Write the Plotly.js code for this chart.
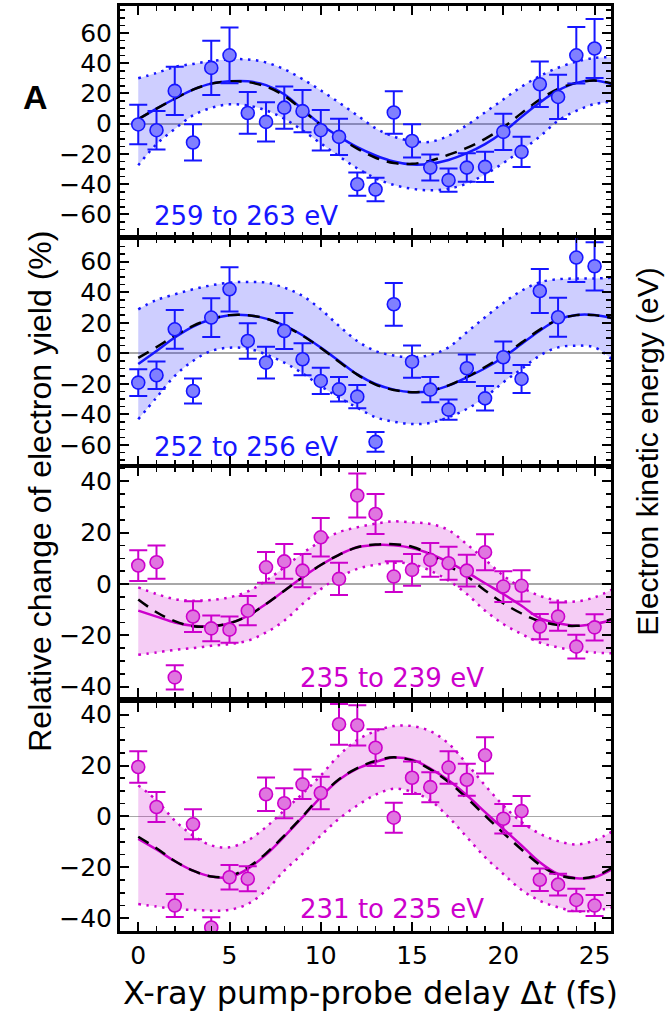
<!DOCTYPE html>
<html><head><meta charset="utf-8">
<script src="https://cdn.plot.ly/plotly-3.0.1.min.js"></script>
<style>html,body{margin:0;padding:0;background:#fff;overflow:hidden}#chart{width:669px;height:1015px}</style>
</head><body><div id="chart"></div>
<script>
// ---- data ----
const delays = [0,1,2,3,4,5,6,7,8,9,10,11,12,13,14,15,16,17,18,19,20,21,22,23,24,25];
const fitDelays = [0,1,2,3,4,5,6,7,8,9,10,11,12,13,14,15,16,17,18,19,20,21,22,23,24,25,26];
const panelLabels = ['259 to 263 eV','252 to 256 eV','235 to 239 eV','231 to 235 eV'];

// panel 1: 259 to 263 eV
const y1 = [-0.5,-4.3,21.7,-12.4,36.9,45.2,7.1,1.2,10.6,8.3,-4.3,-8.7,-40,-43.5,7.4,-11.4,-29,-37.3,-29,-28.5,-5.4,-18.6,26.1,17.7,45.2,49.7];
const e1 = [13,12.7,16,12,18,18.4,13.8,12.9,14,14,13.4,12,7.7,7.7,14,11,8.6,7.7,9.4,10,12,10,15,14.6,18.7,19.5];
const fit1 = [3,10,16.5,22.5,26.5,28,28,25.5,19.5,9.5,-0.5,-8.5,-15.5,-21,-25,-27,-26.5,-24,-19.5,-13.5,-5.5,4.5,14,22,27,28.5,26];
const alt1 = [3,10,16.5,22.5,26.5,28,27.5,24.5,18.5,9,-1,-9,-16.5,-22.5,-26,-26.5,-24.5,-20.5,-16,-10,-2.5,7,16,23,27,28.5,26.5];
const up1 = [30,33.5,37.5,39.5,41.5,42.5,42.5,40.5,36,29.5,22,14,5.5,-3,-8.5,-11.5,-12,-8,-1,7.5,16,24.5,31.5,37,41,43.5,44];
const lo1 = [-27.5,-13.5,-3.5,5.5,10.5,12.8,12,8.8,3.3,-4.4,-13,-21.5,-29.5,-36,-40.5,-43,-44,-43,-39.5,-33.5,-26,-17.5,-8.5,2,8.5,13,14.5];

// panel 2: 252 to 256 eV
const y2 = [-19.2,-14.4,15.7,-24.7,23.4,41.9,8.1,-6.1,14.6,-3.9,-18.1,-23.6,-28.4,-58,32.1,-5.5,-23.8,-36.9,-9.8,-29.5,-2.6,-16.8,40.8,23.6,62.7,57];
const e2 = [8.7,9,12.7,8.2,12.7,14.5,11.6,10.4,11.8,10.5,8.6,8,7.6,6.5,14,10.6,8.2,6.7,9,8,10.3,9.2,14.4,12.8,16,15.8];
const fit2 = [-7,1.5,10.3,17.5,22.3,24.9,24.9,22.7,18.3,11.8,3.7,-5,-13.8,-20.1,-23.8,-25.5,-24.7,-21.2,-15.7,-9.8,-2.6,6.1,14.8,22,25.1,25.1,22.9];
const alt2 = [-3,4,11.5,18,22.5,25,25,22.7,18,11.5,3.5,-5.5,-14,-20.5,-24,-25.5,-24.5,-21,-15.5,-9,-1.5,7,15.5,22,25,25,23];
const up2 = [28.8,34.9,38.6,41.9,44.5,46.3,46.7,46.3,43,37.6,28.8,17.9,8.1,1.5,-1.5,-2.6,-1.1,3.9,13.8,23.6,33,41,46.5,48.5,49,49,49.5];
const lo2 = [-43.2,-29,-14.8,-5,1.5,3.7,3.1,-0.7,-6.1,-13.1,-21.4,-29,-35.6,-41.9,-44.8,-46.3,-45.6,-41.9,-36.5,-28.8,-19,-10.3,-1.5,3.9,5,3.9,-4.5];

// panel 3: 235 to 239 eV
const y3 = [7.2,8.5,-36.4,-12.7,-17.3,-17.8,-10.4,6.5,8.8,5.2,18.2,2,34.5,27.3,2.9,5.5,9.4,8.1,5.2,12.4,-1,-0.7,-16.6,-12.7,-24.4,-16.9];
const e3 = [6,6.5,4.7,6,5,5.1,5.7,6,6.8,6.5,7.5,6.3,8.6,7.8,6,6.2,6.6,6.4,6.2,7,6,6.1,4.9,5.5,4.6,5.1];
const fit3 = [-10.4,-12.7,-15,-16.3,-16.4,-15.3,-12.4,-7.8,-2.6,2.6,7.4,11.4,14.3,15.2,15.1,14,11.7,8.5,4.6,0.3,-3.9,-8.5,-13.3,-15.3,-16.3,-15.6,-14];
const alt3 = [-6,-11,-14.5,-16.5,-16.5,-15.3,-12.4,-7.8,-2.6,2.6,7.4,11.4,14.3,15.4,15.5,14.5,11.5,7,3,-2.5,-7.5,-11.5,-14.5,-16,-16.3,-15.5,-13.5];
const up3 = [-1.3,-3.9,-5.9,-6.5,-6.2,-5.2,-2.9,1.3,6.5,12,16.6,20.2,22.1,23.5,24.4,24,23.4,21,15.5,9.5,3.3,-1.3,-4.6,-6.5,-6.8,-5.2,-2];
const lo3 = [-27.6,-26.7,-25.7,-25,-24.1,-23.4,-22.1,-18.9,-14.3,-7.8,-2,2.6,5.9,7.5,8.3,7.8,5.2,1.3,-3.9,-10.4,-15.6,-19.5,-22.8,-24.7,-26,-26.7,-27];

// panel 4: 231 to 235 eV
const y4 = [19.4,3.7,-35,-3.1,-43.6,-23.9,-24.5,8.7,5.2,12.6,9.2,36.2,35.8,27,-0.5,15.2,11.5,19.2,14.4,24,-0.9,2.1,-24.9,-26.8,-32.8,-35];
const e4 = [6.2,5.9,4.5,5.9,4,4.8,4.9,6.6,5.9,5.8,6.4,8,7.9,7.2,5.9,6.4,5.9,6.4,6.3,7.1,5.8,5.9,4.4,4.3,4.4,4.1];
const fit4 = [-8.8,-13,-17.6,-21.3,-23.6,-23.9,-20.6,-15,-7.9,-0.3,7.6,14.4,18.8,21.4,23.1,22.3,18.8,14.2,8.3,1.7,-4.9,-11.4,-18,-22.6,-24.3,-23.9,-20.6];
const alt4 = [-8,-12.5,-17.5,-21.3,-23.6,-23.5,-20,-14.5,-7.5,0,8,14.6,19,21.8,23.2,22,18.5,13.5,7.2,0.3,-6.5,-13,-19,-23,-24.3,-23.5,-20];
const up4 = [12.2,6.3,-1.6,-7.5,-11.4,-12.1,-9.4,-4.2,2.4,8.9,16.1,24,30,33.5,35.5,35.5,33.5,28.6,20.7,12.2,4.3,-2.2,-6.8,-9.7,-11,-9.4,-5.8];
const lo4 = [-34.4,-35.4,-36.4,-36.7,-37,-36.7,-34.4,-29.1,-21.3,-14.7,-7.5,-0.9,4.3,8.5,10.9,9.6,6.3,-0.3,-8.1,-16,-22.6,-28.9,-33.1,-35.7,-37.3,-37,-35.7];

// ---- styling ----
const BLUE = 'rgb(22,22,255)', BLUE_M = 'rgb(128,128,255)', BLUE_F = 'rgba(22,22,255,0.21)';
const MAG = 'rgb(204,0,204)', MAG_M = 'rgb(224,118,224)', MAG_F = 'rgba(204,0,204,0.2)';

const panels = [
  {y:y1,e:e1,fit:fit1,alt:alt1,up:up1,lo:lo1,c:BLUE,m:BLUE_M,f:BLUE_F},
  {y:y2,e:e2,fit:fit2,alt:alt2,up:up2,lo:lo2,c:BLUE,m:BLUE_M,f:BLUE_F},
  {y:y3,e:e3,fit:fit3,alt:alt3,up:up3,lo:lo3,c:MAG,m:MAG_M,f:MAG_F},
  {y:y4,e:e4,fit:fit4,alt:alt4,up:up4,lo:lo4,c:MAG,m:MAG_M,f:MAG_F}
];

const traces = [];
panels.forEach((p, i) => {
  const xa = i === 0 ? 'x' : 'x' + (i + 1);
  const ya = i === 0 ? 'y' : 'y' + (i + 1);
  traces.push({x:fitDelays, y:p.lo, xaxis:xa, yaxis:ya, mode:'lines', type:'scatter',
    line:{color:p.c, width:2.5, dash:'2.5px,5.5px', shape:'spline', smoothing:1}, hoverinfo:'skip', showlegend:false});
  traces.push({x:fitDelays, y:p.up, xaxis:xa, yaxis:ya, mode:'lines', type:'scatter', fill:'tonexty', fillcolor:p.f,
    line:{color:p.c, width:2.5, dash:'2.5px,5.5px', shape:'spline', smoothing:1}, hoverinfo:'skip', showlegend:false});
  traces.push({x:fitDelays, y:p.fit, xaxis:xa, yaxis:ya, mode:'lines', type:'scatter',
    line:{color:p.c, width:2.5, shape:'spline', smoothing:1}, showlegend:false});
  traces.push({x:fitDelays, y:p.alt, xaxis:xa, yaxis:ya, mode:'lines', type:'scatter',
    line:{color:'black', width:2.5, dash:'12px,8px', shape:'spline', smoothing:1}, showlegend:false});
  traces.push({x:delays, y:p.y, xaxis:xa, yaxis:ya, mode:'markers', type:'scatter',
    error_y:{type:'data', array:p.e, visible:true, color:p.c, thickness:2, width:9},
    marker:{size:13, color:p.m, line:{color:p.c, width:1.6}}, showlegend:false});
});

// plot area: x 120..611 px, y 6..931.5 px
const T = 6, B = 931.5, H = B - T;
const frac = px => (B - px) / H;
const domains = [[frac(237), 1], [frac(465), frac(238)], [frac(697), frac(467)], [0, frac(703)]];
const yranges = [[-74.8, 77.8], [-73, 75.6], [-43.9, 45.7], [-45.0, 44.7]];

const tickFont = {family:'DejaVu Sans, sans-serif', size:25, color:'black'};
const layout = {
  width:669, height:1015, paper_bgcolor:'white', plot_bgcolor:'white',
  margin:{l:120, r:58, t:T, b:1015 - B}, showlegend:false,
  annotations:[]
};
for (let i = 0; i < 4; i++) {
  const xk = i === 0 ? 'xaxis' : 'xaxis' + (i + 1);
  const yk = i === 0 ? 'yaxis' : 'yaxis' + (i + 1);
  layout[xk] = {
    domain:[0,1], anchor: i === 0 ? 'y' : 'y' + (i + 1), range:[-1, 25.9],
    showline:true, linecolor:'black', linewidth:3, mirror:'allticks',
    ticks:'inside', ticklen:9, tickwidth:2, tickcolor:'black', tick0:0, dtick:5,
    minor:{dtick:1, ticks:'inside', ticklen:5, tickwidth:1.5, tickcolor:'black', showgrid:false},
    showgrid:false, zeroline:false, showticklabels: i === 3, tickfont:tickFont, fixedrange:true
  };
  layout[yk] = {
    domain:domains[i], anchor: i === 0 ? 'x' : 'x' + (i + 1), range:yranges[i],
    showline:true, linecolor:'black', linewidth:3, mirror:'allticks',
    ticks:'inside', ticklen:9, tickwidth:2, tickcolor:'black', tick0:0, dtick:20,
    minor:{dtick:5, ticks:'inside', ticklen:5, tickwidth:1.5, tickcolor:'black', showgrid:false},
    showgrid:false, zeroline:true, zerolinecolor:'#a8a8a8', zerolinewidth:1.6,
    tickfont:tickFont, fixedrange:true
  };
}

const labelPos = [[246, 216], [246, 447], [392, 678], [392, 909]];
panelLabels.forEach((t, i) => {
  layout.annotations.push({text:t, xref:'paper', yref:'paper',
    x:(labelPos[i][0] - 120) / 491, y:frac(labelPos[i][1]), xanchor:'center', yanchor:'middle', showarrow:false,
    font:{family:'DejaVu Sans, sans-serif', size:26, color: i < 2 ? BLUE : MAG}});
});
layout.annotations.push({text:'<b>A</b>', xref:'paper', yref:'paper', x:(35 - 120) / 491, y:frac(97),
  xanchor:'center', yanchor:'middle', showarrow:false, font:{family:'Liberation Sans, Arial, sans-serif', size:34, color:'black'}});
layout.annotations.push({text:'Relative change of electron yield (%)', xref:'paper', yref:'paper',
  x:(40 - 120) / 491, y:frac(492), xanchor:'center', yanchor:'middle', textangle:-90, showarrow:false,
  font:{family:'Liberation Sans, Arial, sans-serif', size:32, color:'black'}});
layout.annotations.push({text:'X-ray pump-probe delay Δ<i>t</i> (fs)', xref:'paper', yref:'paper',
  x:(370 - 120) / 491, y:frac(994), xanchor:'center', yanchor:'middle', showarrow:false,
  font:{family:'DejaVu Sans, sans-serif', size:32, color:'black'}});
layout.annotations.push({text:'Electron kinetic energy (eV)', xref:'paper', yref:'paper',
  x:(648 - 120) / 491, y:frac(452), xanchor:'center', yanchor:'middle', textangle:-90, showarrow:false,
  font:{family:'Liberation Sans, Arial, sans-serif', size:30, color:'black'}});

Plotly.newPlot('chart', traces, layout, {staticPlot:true, displayModeBar:false});
</script></body></html>
